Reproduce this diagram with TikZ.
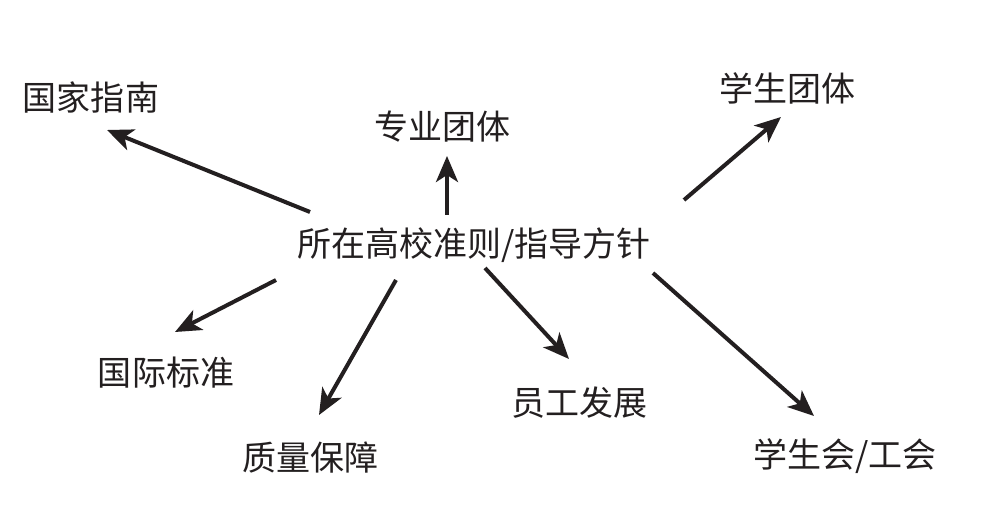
\documentclass[tikz,border=0pt]{standalone}
\usepackage{fontspec}
\setmainfont{Liberation Serif}
\newfontfamily\cjk{Noto Sans CJK SC}[Scale=1]
\usetikzlibrary{arrows.meta}
\definecolor{ink}{HTML}{231F20}
\tikzset{
  lbl/.style={font=\cjk\fontsize{34bp}{40bp}\selectfont, text=ink, inner sep=0pt, anchor=center},
  arr/.style={draw=ink, line width=4bp, -{Stealth[length=26bp,width=22bp,inset=7bp]}}
}
\begin{document}
\begin{tikzpicture}[x=1bp,y=-1bp]
\useasboundingbox[fill=white] (0,0) rectangle (997,519);
\node[lbl] (c) at (474,245) {所在高校准则/指导方针};
\node[lbl] (gj) at (91,97) {国家指南};
\node[lbl] (zy) at (442,127) {专业团体};
\node[lbl] (xs) at (787,88) {学生团体};
\node[lbl] (bz) at (166,373) {国际标准};
\node[lbl] (zl) at (310,458) {质量保障};
\node[lbl] (yg) at (579,403) {员工发展};
\node[lbl] (xh) at (845,456) {学生会/工会};
% arrow ends
\coordinate (t1) at (310,212); \coordinate (h1) at (107,130);
\coordinate (t2) at (447,215); \coordinate (h2) at (447,156);
\coordinate (t3) at (684,200); \coordinate (h3) at (781,117);
\coordinate (t4) at (276,280); \coordinate (h4) at (175,332);
\coordinate (t5) at (396,280); \coordinate (h5) at (319,415);
\coordinate (t6) at (485,268); \coordinate (h6) at (569,359);
\coordinate (t7) at (653,273); \coordinate (h7) at (814,416);
\draw[arr] (t1) -- (h1);
\draw[arr] (t2) -- (h2);
\draw[arr] (t3) -- (h3);
\draw[arr] (t4) -- (h4);
\draw[arr] (t5) -- (h5);
\draw[arr] (t6) -- (h6);
\draw[arr] (t7) -- (h7);
\end{tikzpicture}
\end{document}
